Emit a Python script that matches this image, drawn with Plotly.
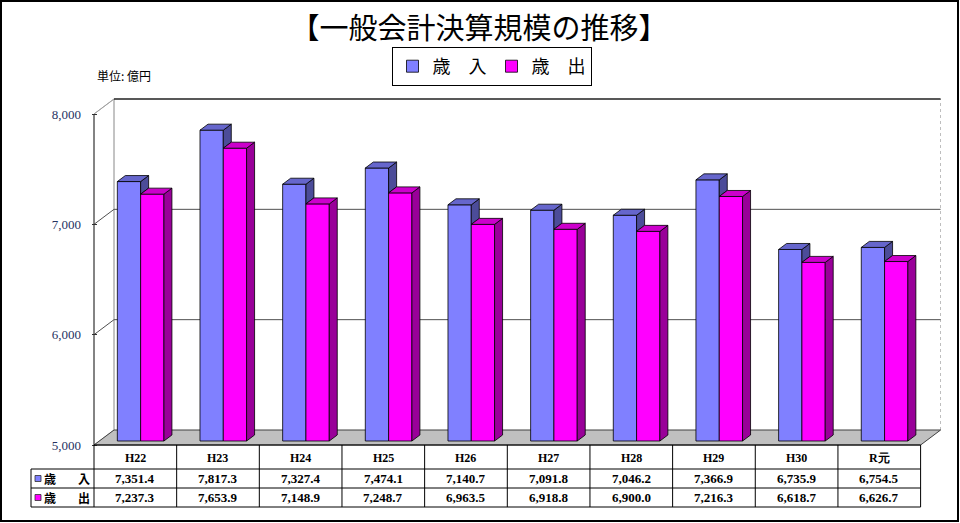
import plotly.graph_objects as go

# ---------------- data ----------------
categories = ["H22", "H23", "H24", "H25", "H26", "H27", "H28", "H29", "H30", "R元"]
revenue = [7351.4, 7817.3, 7327.4, 7474.1, 7140.7, 7091.8, 7046.2, 7366.9, 6735.9, 6754.5]
expenditure = [7237.3, 7653.9, 7148.9, 7248.7, 6963.5, 6918.8, 6900.0, 7216.3, 6618.7, 6626.7]
series_names = ["歳　入", "歳　出"]
row_labels = [("歳", "入"), ("歳", "出")]
y_ticks = [5000, 6000, 7000, 8000]
title_text = "【一般会計決算規模の推移】"
unit_text = "単位: 億円"

# ---------------- styling / geometry ----------------
W, H = 960, 523
FRONT_LEFT_PX = 94.0      # front plane, left edge of category band
FRONT_BASE_PX = 445.0     # front plane, y pixel of axis minimum
UNIT = 82.66              # px per category
YPX = 331.0 / 3000.0      # px per value unit
Y_MIN, Y_MAX = 5000, 8000
DEPTH = (20.0, 15.0)      # 3-D depth of the box (px right, px up)
BAR_SHIFT = (5.3, 4.0)    # front face of bars behind front plane
BAR_DEPTH = (8.0, 6.0)    # depth of each column
BAR_W_PX = 23.3

L, R, T, B = 92, 941, 97, 447
xmin = -0.5 - (FRONT_LEFT_PX - L) / UNIT
xmax = -0.5 + (R - FRONT_LEFT_PX) / UNIT
ymin = Y_MIN - (B - FRONT_BASE_PX) / YPX
ymax = Y_MIN + (FRONT_BASE_PX - T) / YPX

colors = [
    {"front": "#8080FF", "top": "#6666CC", "side": "#4C4C99"},
    {"front": "#FF00FF", "top": "#CC00CC", "side": "#990099"},
]
EDGE = "#000000"
SERIF = "Liberation Serif"
CJK = "Noto Sans CJK JP"


def dx(p):
    return p / UNIT


def dy(p):
    return p / YPX


def px_x(p):
    return (p - L) / (R - L)


def px_y(p):
    return (B - p) / (B - T)


def data_x_paper(x):
    return (x - xmin) / (xmax - xmin)


fig = go.Figure()

n = len(categories)
bw = dx(BAR_W_PX)
base = Y_MIN + dy(BAR_SHIFT[1])
bdx, bdy = dx(BAR_DEPTH[0]), dy(BAR_DEPTH[1])
series = [revenue, expenditure]

# front faces as real bars
for s, vals in enumerate(series):
    xs = [i + dx(BAR_SHIFT[0]) - bw + s * bw + bw / 2 for i in range(n)]
    fig.add_trace(go.Bar(
        x=xs, y=[v - Y_MIN for v in vals], base=base, width=bw,
        name=series_names[s],
        marker=dict(color=colors[s]["front"], line=dict(color=EDGE, width=0.8)),
        hoverinfo="skip",
    ))

# 3-D faces (tops and sides) from the same values
for s, vals in enumerate(series):
    top_x, top_y, side_x, side_y = [], [], [], []
    for i in range(n):
        x0 = i + dx(BAR_SHIFT[0]) - bw + s * bw
        x1 = x0 + bw
        t = vals[i] + dy(BAR_SHIFT[1])
        if s == 0:
            # only the part of the blue side above the neighbouring bar is visible
            lo = expenditure[i] + dy(BAR_SHIFT[1])
        else:
            lo = base
        if t > lo:
            side_x += [x1, x1, x1 + bdx, x1 + bdx, x1, None]
            side_y += [lo, t, t + bdy, lo + bdy, lo, None]
        top_x += [x0, x1, x1 + bdx, x0 + bdx, x0, None]
        top_y += [t, t, t + bdy, t + bdy, t, None]
    fig.add_trace(go.Scatter(x=side_x, y=side_y, mode="lines", fill="toself",
                             fillcolor=colors[s]["side"], line=dict(color=EDGE, width=0.8),
                             showlegend=False, hoverinfo="skip"))
    fig.add_trace(go.Scatter(x=top_x, y=top_y, mode="lines", fill="toself",
                             fillcolor=colors[s]["top"], line=dict(color=EDGE, width=0.8),
                             showlegend=False, hoverinfo="skip"))

shapes = []
wx0 = -0.5 + dx(DEPTH[0])
wx1 = (n - 0.5) + dx(DEPTH[0])
wy0 = Y_MIN + dy(DEPTH[1])
wy1 = Y_MAX + dy(DEPTH[1])

# back wall and left wall
shapes.append(dict(type="rect", xref="x", yref="y", x0=wx0, x1=wx1, y0=wy0, y1=wy1,
                   fillcolor="white", line=dict(width=0), layer="below"))
shapes.append(dict(type="path", xref="x", yref="y",
                   path=f"M{-0.5},{Y_MIN} L{-0.5},{Y_MAX} L{wx0},{wy1} L{wx0},{wy0} Z",
                   fillcolor="white", line=dict(color="#B0B0B0", width=1), layer="below"))
# wall edges
shapes.append(dict(type="line", xref="x", yref="y", x0=wx0, x1=wx0, y0=wy0, y1=wy1,
                   line=dict(color="#B0B0B0", width=1), layer="below"))
shapes.append(dict(type="line", xref="x", yref="y", x0=wx1, x1=wx1, y0=wy0, y1=wy1,
                   line=dict(color="#B8B8B8", width=1, dash="dot"), layer="below"))
shapes.append(dict(type="line", xref="x", yref="y", x0=wx0, x1=wx1, y0=wy1, y1=wy1,
                   line=dict(color="#202020", width=1.5), layer="below"))
# grid lines
for v in y_ticks[1:-1]:
    shapes.append(dict(type="line", xref="x", yref="y", x0=wx0, x1=wx1,
                       y0=v + dy(DEPTH[1]), y1=v + dy(DEPTH[1]),
                       line=dict(color="#505050", width=1), layer="below"))
    shapes.append(dict(type="line", xref="x", yref="y", x0=-0.5, x1=wx0,
                       y0=v, y1=v + dy(DEPTH[1]),
                       line=dict(color="#505050", width=1), layer="below"))
shapes.append(dict(type="line", xref="x", yref="y", x0=-0.5, x1=wx0,
                   y0=Y_MAX, y1=wy1, line=dict(color="#A0A0A0", width=1), layer="below"))
# floor
shapes.append(dict(type="path", xref="x", yref="y",
                   path=f"M{-0.5},{Y_MIN} L{n - 0.5},{Y_MIN} L{wx1},{wy0} L{wx0},{wy0} Z",
                   fillcolor="#C0C0C0", line=dict(color="#404040", width=1), layer="below"))
# front value axis
shapes.append(dict(type="line", xref="x", yref="y", x0=-0.5, x1=-0.5, y0=Y_MIN, y1=Y_MAX,
                   line=dict(color="#303030", width=1), layer="below"))

# ---------------- data table ----------------
row_px = [FRONT_BASE_PX, 469, 488, 507]
left_px = 31
col_edges = [data_x_paper(-0.5 + k) for k in range(n + 1)]
tline = dict(color="#000000", width=1)
shapes.append(dict(type="line", xref="paper", yref="paper", x0=col_edges[0], x1=col_edges[-1],
                   y0=px_y(row_px[0]), y1=px_y(row_px[0]), line=tline))
for rp in row_px[1:]:
    shapes.append(dict(type="line", xref="paper", yref="paper", x0=px_x(left_px), x1=col_edges[-1],
                       y0=px_y(rp), y1=px_y(rp), line=tline))
for ce in col_edges:
    shapes.append(dict(type="line", xref="paper", yref="paper", x0=ce, x1=ce,
                       y0=px_y(row_px[0]), y1=px_y(row_px[-1]), line=tline))
shapes.append(dict(type="line", xref="paper", yref="paper", x0=px_x(left_px), x1=px_x(left_px),
                   y0=px_y(row_px[1]), y1=px_y(row_px[-1]), line=tline))

annotations = []
hdr_y = px_y((row_px[0] + row_px[1]) / 2 + 1)
for i, c in enumerate(categories):
    annotations.append(dict(x=data_x_paper(i), y=hdr_y, xref="paper", yref="paper",
                            xanchor="center", yanchor="middle",
                            text=f"<b>{c}</b>", showarrow=False,
                            font=dict(family=SERIF, size=12, color="#000000")))
for r, vals in enumerate(series):
    cy = (row_px[r + 1] + row_px[r + 2]) / 2
    for i, v in enumerate(vals):
        annotations.append(dict(x=data_x_paper(i), y=px_y(cy), xref="paper", yref="paper",
                                xanchor="center", yanchor="middle",
                                text=f"<b>{v:,.1f}</b>", showarrow=False,
                                font=dict(family=SERIF, size=13, color="#000000")))
    # legend key in the row header
    shapes.append(dict(type="rect", xref="paper", yref="paper",
                       x0=px_x(35), x1=px_x(41), y0=px_y(cy + 3), y1=px_y(cy - 3),
                       fillcolor=colors[r]["front"], line=dict(color="#303030", width=0.8)))
    annotations.append(dict(x=px_x(42), y=px_y(cy), xref="paper", yref="paper",
                            xanchor="left", yanchor="middle",
                            text=f"<b>{row_labels[r][0]}</b>", showarrow=False,
                            font=dict(family=CJK, size=12, color="#000000")))
    annotations.append(dict(x=px_x(92), y=px_y(cy), xref="paper", yref="paper",
                            xanchor="right", yanchor="middle",
                            text=f"<b>{row_labels[r][1]}</b>", showarrow=False,
                            font=dict(family=CJK, size=12, color="#000000")))

# unit label
annotations.append(dict(x=px_x(95), y=px_y(76), xref="paper", yref="paper",
                        xanchor="left", yanchor="middle",
                        text=unit_text, showarrow=False,
                        font=dict(family=CJK, size=12, color="#000000")))

# outer frame
shapes.append(dict(type="rect", xref="paper", yref="paper",
                   x0=px_x(1), x1=px_x(958), y0=px_y(521), y1=px_y(1),
                   line=dict(color="#000000", width=2)))

fig.update_layout(
    width=W, height=H,
    margin=dict(l=L, r=W - R, t=T, b=H - B),
    paper_bgcolor="white", plot_bgcolor="white",
    barmode="overlay",
    title=dict(text=title_text, x=479 / W, xref="container", xanchor="center",
               y=1 - 29 / H, yref="container", yanchor="middle",
               font=dict(family=CJK, size=29, color="#000000")),
    legend=dict(orientation="h", xref="container", yref="container",
                x=491.5 / W, xanchor="center", y=1 - 66.5 / H, yanchor="middle",
                bgcolor="white", bordercolor="#000000", borderwidth=1,
                font=dict(family=CJK, size=18, color="#000000"),
                itemwidth=30, traceorder="normal"),
    xaxis=dict(range=[xmin, xmax], visible=False, fixedrange=True),
    yaxis=dict(range=[ymin, ymax], tickvals=y_ticks, tickformat=",",
               showgrid=False, zeroline=False, showline=False,
               ticks="inside", ticklen=5, tickcolor="#303030",
               ticklabelstandoff=10,
               tickfont=dict(family=SERIF, size=13, color="#26325F"),
               fixedrange=True),
    shapes=shapes,
    annotations=annotations,
    showlegend=True,
)

fig.write_html("out.html", config={"displayModeBar": False},
               post_script="document.body.style.margin='0';")
